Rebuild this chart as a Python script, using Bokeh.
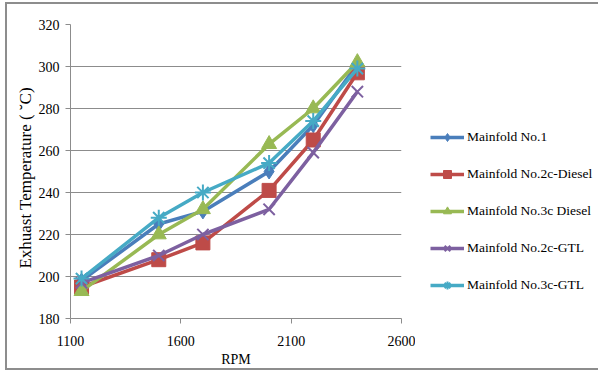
from bokeh.plotting import figure
from bokeh.models import Legend, LegendItem, FixedTicker, Range1d
from bokeh.layouts import row
from bokeh.embed import file_html
from bokeh.resources import INLINE

rpm = [1150, 1500, 1700, 2000, 2200, 2400]
series_names = ["Mainfold No.1", "Mainfold No.2c-Diesel", "Mainfold No.3c Diesel",
                "Mainfold No.2c-GTL", "Mainfold No.3c-GTL"]
m1 = [198, 225, 231, 250, 272, 301]
m2_diesel = [195, 208, 216, 241, 265, 297]
m3_diesel = [193, 220, 232, 263, 280, 302]
m2_gtl = [197, 210, 220, 232, 259, 288]
m3_gtl = [199, 228, 240, 254, 274, 299]
x_ticks = [1100, 1600, 2100, 2600]
y_ticks = [180, 200, 220, 240, 260, 280, 300, 320]

colors = ["#4A7EBB", "#BE4B48", "#98B954", "#7D60A0", "#46AAC5"]
markers = ["diamond", "square", "triangle", "x", "asterisk"]
sizes = [15, 14, 15, 16, 16]
values = [m1, m2_diesel, m3_diesel, m2_gtl, m3_gtl]

FONT = "Liberation Serif"
BORDER = "2px solid #8d8d8d"

p = figure(width=410, height=368, output_backend="svg", toolbar_location=None,
           x_range=Range1d(1100, 2600), y_range=Range1d(180, 320),
           min_border_left=63, min_border_right=16, min_border_top=20, min_border_bottom=54)
p.styles = {"margin-left": "5px", "margin-top": "2px",
            "border-left": BORDER, "border-top": BORDER, "border-bottom": BORDER}
p.outline_line_color = None
p.background_fill_color = "white"
p.border_fill_color = "white"

p.xgrid.grid_line_color = None
p.ygrid.grid_line_color = "#8c8c8c"
p.ygrid.grid_line_width = 1

p.xaxis.ticker = FixedTicker(ticks=x_ticks)
p.yaxis.ticker = FixedTicker(ticks=y_ticks)
for ax in (p.xaxis[0], p.yaxis[0]):
    ax.axis_line_color = "#8c8c8c"
    ax.major_tick_line_color = "#8c8c8c"
    ax.major_tick_out = 5
    ax.major_tick_in = 0
    ax.minor_tick_line_color = None
    ax.major_label_text_font = FONT
    ax.major_label_text_font_size = "14px"
    ax.major_label_text_color = "black"
    ax.axis_label_text_font = FONT
    ax.axis_label_text_font_style = "normal"
    ax.axis_label_text_color = "black"
p.xaxis.axis_label = "RPM"
p.xaxis.axis_label_text_font_size = "14px"
p.xaxis.axis_label_standoff = 3
p.xaxis.major_label_standoff = 12
p.yaxis.axis_label = "Exhuast   Temperature  ( \u02d8C)"
p.yaxis.axis_label_text_font_size = "17px"
p.yaxis.axis_label_standoff = 1
p.yaxis.major_label_standoff = 6

# legend-only panel on the right
p2 = figure(width=183, height=368, output_backend="svg", toolbar_location=None,
            x_range=Range1d(0, 1), y_range=Range1d(0, 1),
            x_axis_location=None, y_axis_location=None, min_border=0)
p2.styles = {"margin-top": "2px", "border-top": BORDER, "border-bottom": BORDER}
p2.outline_line_color = None
p2.xgrid.grid_line_color = None
p2.ygrid.grid_line_color = None
p2.border_fill_color = "white"

items = []
for name, vals, c, mk, sz in zip(series_names, values, colors, markers, sizes):
    lw = 2 if mk in ("x", "asterisk") else 1
    p.line(rpm, vals, line_color=c, line_width=3.5)
    p.scatter(rpm, vals, marker=mk, size=sz, fill_color=c, line_color=c, line_width=lw)
    # same series in the legend panel (outside its visible range) for legend swatches
    l2 = p2.line(rpm, vals, line_color=c, line_width=3.5)
    s2 = p2.scatter(rpm, vals, marker=mk, size=sz, fill_color=c, line_color=c, line_width=lw)
    items.append(LegendItem(label=name, renderers=[l2, s2]))

legend = Legend(items=items, location=(15, 23), margin=0, padding=0,
                border_line_color=None, background_fill_alpha=0,
                glyph_width=34, glyph_height=20, label_height=20, spacing=17,
                label_standoff=3, label_text_font=FONT, label_text_font_size="13.5px",
                label_text_color="black")
p2.add_layout(legend, "center")

layout = row(p, p2, spacing=0)
open("out.html", "w").write(file_html(layout, INLINE))
